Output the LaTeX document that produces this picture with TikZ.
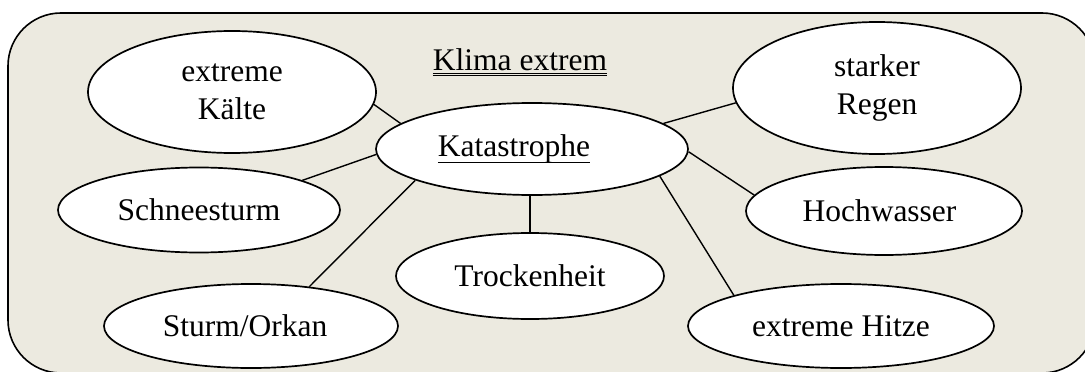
\documentclass[tikz,border=0pt]{standalone}
\usepackage{fontspec}
\setmainfont{Liberation Serif}
\usetikzlibrary{shapes.geometric}
\definecolor{climateBeige}{RGB}{236, 234, 224}

% underline as a word processor draws it (below the baseline, through descenders)
\newcommand{\wordul}[1]{\setbox0=\hbox{#1}\rlap{\rule[-7pt]{\wd0}{1.6pt}}\box0}
\newcommand{\wordduul}[1]{\setbox0=\hbox{#1}\rlap{\rule[-3.6pt]{\wd0}{1.1pt}}\rlap{\rule[-6.2pt]{\wd0}{1.1pt}}\box0}

\begin{document}
\begin{tikzpicture}[x=1pt, y=-1pt]
    % Styles
    \tikzstyle{frame} = [draw=black, line width=1.6pt, fill=climateBeige, rounded corners=53pt]
    \tikzstyle{heading} = [anchor=base, inner sep=0pt, font=\fontsize{31.5}{38}\selectfont]
    \tikzstyle{bubble} = [ellipse, draw=black, line width=1.7pt, fill=white, inner sep=0pt, align=center, font=\fontsize{31.5}{38}\selectfont]
    \tikzstyle{link} = [line width=1.4pt, black]

    \useasboundingbox (0,0) rectangle (1085,372);
    \clip (0,0) rectangle (1085,372);

    % Background frame
    \draw[frame] (8,13) rectangle (1095,373);
    \node[heading] (klima) at (520,70) {\wordduul{Klima extrem}};

    % Centre
    \node[bubble, minimum width=312pt, minimum height=92pt] (kata) at (532,149) {\wordul{Katastrophe}\hspace*{36pt}};

    % Left side
    \node[bubble, minimum width=288pt, minimum height=122pt] (kaelte) at (232,92) {extreme\\Kälte};
    \node[bubble, minimum width=282pt, minimum height=85pt] (schnee) at (199,210) {Schneesturm};
    \node[bubble, minimum width=294pt, minimum height=84pt] (sturm) at (251,326) {Sturm/Orkan\hspace*{12pt}};
    \node[bubble, minimum width=268pt, minimum height=86pt] (trocken) at (530,276) {Trockenheit};

    % Right side
    \node[bubble, minimum width=288pt, minimum height=132pt] (regen) at (877,88) {starker\\Regen};
    \node[bubble, minimum width=276pt, minimum height=88pt] (hoch) at (884,211) {Hochwasser\hspace*{9pt}};
    \node[bubble, minimum width=306pt, minimum height=84pt] (hitze) at (841,326) {extreme Hitze};

    % Connectors
    \draw[link] (kata.169) -- (kaelte.-5);
    \draw[link] (kata.182) -- (schnee.16);
    \draw[link] (kata.195) -- (sturm.34.5);
    \draw[link] (kata.south -| trocken.north) -- (trocken.north);
    \draw[link] (kata.-12.6) -- (hitze.164.5);
    \draw[link] (kata.-1.8) -- (hoch.173);
    \draw[link] (kata.11.7) -- (regen.-174);
\end{tikzpicture}
\end{document}
